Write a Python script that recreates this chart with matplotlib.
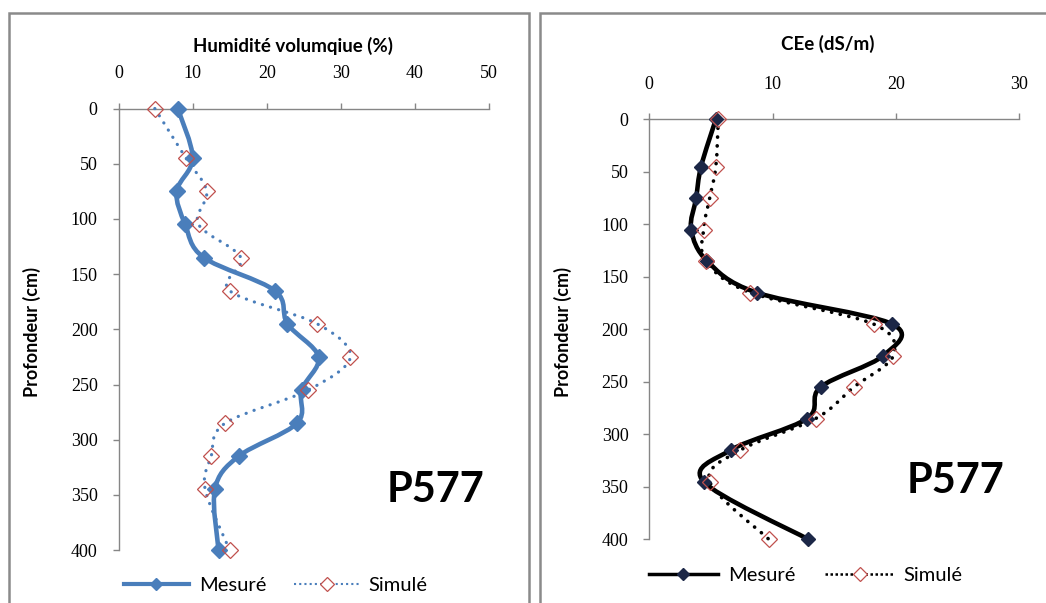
import numpy as np
import matplotlib
matplotlib.use("Agg")
import matplotlib.pyplot as plt
from matplotlib.path import Path
from matplotlib.patches import PathPatch, Rectangle
from matplotlib.lines import Line2D

# ---------------- data ----------------
depth = [0, 45, 75, 105, 135, 165, 195, 225, 255, 285, 315, 345, 400]

hum_mesure = [8.0, 10.0, 7.85, 9.0, 11.5, 21.1, 22.8, 27.0, 24.7, 24.1, 16.2, 13.0, 13.5]
hum_simule = [4.9, 9.1, 11.9, 10.8, 16.5, 15.0, 26.8, 31.3, 25.6, 14.4, 12.5, 11.7, 15.0]

cee_mesure = [5.4, 4.2, 3.8, 3.4, 4.7, 8.7, 19.7, 19.0, 13.9, 12.8, 6.6, 4.4, 12.9]
cee_simule = [5.6, 5.4, 4.9, 4.4, 4.6, 8.2, 18.2, 19.8, 16.6, 13.5, 7.4, 4.9, 9.7]

left_xticks = [0, 10, 20, 30, 40, 50]
right_xticks = [0, 10, 20, 30]
yticks = [0, 50, 100, 150, 200, 250, 300, 350, 400]

left_xlabel = "Humidité volumqiue (%)"
right_xlabel = "CEe (dS/m)"
ylabel = "Profondeur (cm)"
site = "P577"
series_names = ["Mesuré", "Simulé"]

# ---------------- figure ----------------
W, H = 1046, 603
fig = plt.figure(figsize=(W / 100, H / 100), dpi=100)
fig.patch.set_facecolor("white")

TXT = ["Lato", "DejaVu Sans"]
NUM = ["Liberation Serif", "DejaVu Serif"]


def px_axes(x0, x1, y0, y1):
    return fig.add_axes([x0 / W, 1 - y1 / H, (x1 - x0) / W, (y1 - y0) / H])


def smooth_patch(ax, xs, ys, **kw):
    P = np.column_stack([xs, ys]).astype(float)
    n = len(P)
    verts = [P[0]]
    codes = [Path.MOVETO]
    for i in range(n - 1):
        p0 = P[i - 1] if i > 0 else P[i]
        p1 = P[i]
        p2 = P[i + 1]
        p3 = P[i + 2] if i + 2 < n else P[i + 1]
        c1 = p1 + (p2 - p0) / 6.0
        c2 = p2 - (p3 - p1) / 6.0
        verts += [c1, c2, p2]
        codes += [Path.CURVE4] * 3
    patch = PathPatch(Path(verts, codes), fill=False, **kw)
    ax.add_patch(patch)
    return patch


# panel borders
for (x0, y0, x1, y1) in [(9, 13, 529, 640), (540, 13, 1080, 640)]:
    fig.add_artist(Rectangle((x0 / W, 1 - y1 / H), (x1 - x0) / W, (y1 - y0) / H,
                             transform=fig.transFigure, fill=False,
                             ec="#8a8a8a", lw=1.8, clip_on=False))


def style_axes(ax, xmax, xticks):
    ax.set_xlim(0, xmax)
    ax.set_ylim(400, 0)
    ax.xaxis.tick_top()
    ax.set_xticks(xticks)
    ax.set_yticks(yticks)
    for s in ["right", "bottom"]:
        ax.spines[s].set_visible(False)
    for s in ["left", "top"]:
        ax.spines[s].set_color("#868686")
        ax.spines[s].set_linewidth(1.0)
    ax.tick_params(axis="x", direction="out", length=4, width=1, color="#868686",
                   pad=15, labelsize=13)
    ax.tick_params(axis="y", direction="out", length=4, width=1, color="#868686",
                   pad=11, labelsize=13)
    for lab in ax.get_xticklabels() + ax.get_yticklabels():
        lab.set_family(NUM)
    ax.patch.set_alpha(0)


# ---------------- left chart ----------------
axL = px_axes(118.5, 489, 108.5, 550.1)
style_axes(axL, 50, left_xticks)
blue = "#4A7EBB"
red = "#C0504D"

smooth_patch(axL, hum_simule, depth, ec=blue, lw=2.3, linestyle=(0, (0.05, 2.6)),
             capstyle="round", zorder=3, clip_on=False)
smooth_patch(axL, hum_mesure, depth, ec=blue, lw=3.3, capstyle="round",
             joinstyle="round", zorder=4, clip_on=False)
axL.plot(hum_mesure, depth, ls="none", marker="D", ms=8, mfc=blue, mec=blue,
         zorder=5, clip_on=False)
axL.plot(hum_simule, depth, ls="none", marker="D", ms=8.5, mfc="none", mec=red,
         mew=0.9, zorder=6, clip_on=False)

fig.text(293 / W, 1 - 46 / H, left_xlabel, ha="center", va="center",
         fontsize=13.5, fontweight="bold", family=TXT)
fig.text(32 / W, 1 - 332 / H, ylabel, ha="center", va="center", rotation=90,
         fontsize=13, fontweight="bold", family=TXT)
fig.text(436 / W, 1 - 490 / H, site, ha="center", va="center",
         fontsize=30, fontweight="bold", family=TXT)

hL = [Line2D([], [], color=blue, lw=3.0, marker="D", ms=6, mfc=blue, mec=blue),
      Line2D([], [], color=blue, lw=1.5, ls=(0, (1, 1.5)), marker="D", ms=7,
             mfc="white", mec=red, mew=0.9)]
fig.legend(hL, series_names, loc="center", bbox_to_anchor=(276 / W, 1 - 585 / H),
           ncol=2, frameon=False, handlelength=3.2, columnspacing=1.4,
           handletextpad=0.5, prop={"family": TXT, "size": 14.5})

# ---------------- right chart ----------------
axR = px_axes(649.3, 1019, 119.3, 539.3)
style_axes(axR, 30, right_xticks)
navy = "#1c2747"

smooth_patch(axR, cee_simule, depth, ec="black", lw=2.6, linestyle=(0, (0.05, 2.4)),
             capstyle="round", zorder=3, clip_on=False)
smooth_patch(axR, cee_mesure, depth, ec="black", lw=3.3, capstyle="round",
             joinstyle="round", zorder=4, clip_on=False)
axR.plot(cee_mesure, depth, ls="none", marker="D", ms=7.5, mfc=navy, mec=navy,
         zorder=5, clip_on=False)
axR.plot(cee_simule, depth, ls="none", marker="D", ms=8.5, mfc="none", mec=red,
         mew=0.9, zorder=6, clip_on=False)

fig.text(828 / W, 1 - 44 / H, right_xlabel, ha="center", va="center",
         fontsize=13.5, fontweight="bold", family=TXT)
fig.text(563 / W, 1 - 332 / H, ylabel, ha="center", va="center", rotation=90,
         fontsize=13, fontweight="bold", family=TXT)
fig.text(955 / W, 1 - 481 / H, site, ha="center", va="center",
         fontsize=30, fontweight="bold", family=TXT)

hR = [Line2D([], [], color="black", lw=2.5, marker="D", ms=6, mfc=navy, mec=navy),
      Line2D([], [], color="black", lw=1.8, ls=(0, (1, 1)), marker="D", ms=7,
             mfc="white", mec=red, mew=0.9)]
fig.legend(hR, series_names, loc="center", bbox_to_anchor=(806 / W, 1 - 575 / H),
           ncol=2, frameon=False, handlelength=3.4, columnspacing=1.5,
           handletextpad=0.5, prop={"family": TXT, "size": 14.5})

fig.savefig("out.png", dpi=100, facecolor="white")
